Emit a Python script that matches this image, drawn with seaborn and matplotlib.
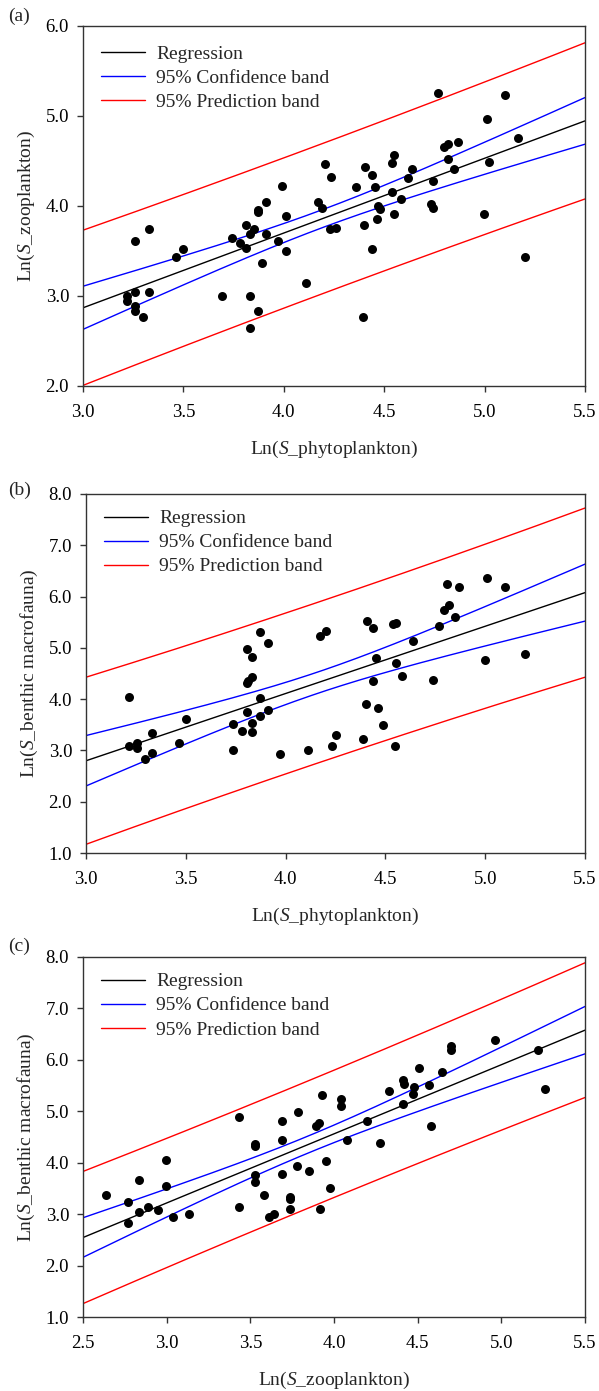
import numpy as np
import pandas as pd
import seaborn as sns
import matplotlib.pyplot as plt
from matplotlib.lines import Line2D

## Data

# (a) Ln(S_phytoplankton) vs Ln(S_zooplankton)
phyto_a = [3.22, 3.22, 3.26, 3.33, 3.26, 3.26, 3.26, 3.30, 3.33, 3.465, 3.50, 3.69,
           3.74, 3.78, 3.81, 3.81, 3.83, 3.85, 3.87, 3.87, 3.91, 3.89, 3.91, 3.83,
           3.87, 3.83, 3.97, 4.01, 4.01, 3.99, 4.77, 5.10, 5.01, 5.165, 4.80, 4.82,
           4.87, 4.82, 4.85, 5.02, 4.55, 4.54, 4.205, 4.235, 4.405, 4.44, 4.36, 4.455,
           4.64, 4.62, 4.745, 4.54, 4.585, 4.17, 4.19, 4.47, 4.48, 4.55, 4.735, 4.745,
           4.995, 4.466, 4.40, 4.23, 4.26, 4.44, 4.11, 4.395, 5.20]
zoo_a = [3.00, 2.95, 3.61, 3.74, 3.05, 2.89, 2.83, 2.77, 3.05, 3.43, 3.52, 3.00,
         3.64, 3.59, 3.53, 3.79, 3.69, 3.74, 3.96, 3.93, 4.04, 3.37, 3.69, 3.00,
         2.83, 2.64, 3.61, 3.89, 3.50, 4.22, 5.26, 5.23, 4.97, 4.76, 4.65, 4.69,
         4.71, 4.52, 4.41, 4.49, 4.57, 4.48, 4.47, 4.32, 4.43, 4.34, 4.21, 4.21,
         4.41, 4.31, 4.28, 4.15, 4.08, 4.05, 3.98, 4.00, 3.97, 3.91, 4.02, 3.98,
         3.91, 3.86, 3.79, 3.75, 3.76, 3.52, 3.14, 2.77, 3.43]

# (b) Ln(S_phytoplankton) vs Ln(S_benthic macrofauna)
phyto_b = [3.217, 3.217, 3.257, 3.254, 3.294, 3.33, 3.33, 3.465, 3.50, 3.737, 3.737,
           3.78, 3.805, 3.805, 3.81, 3.83, 3.83, 3.83, 3.83, 3.87, 3.87, 3.91, 3.97,
           3.805, 3.87, 3.91, 4.17, 4.20, 4.41, 4.44, 4.54, 4.555, 4.81, 4.87, 5.01,
           5.10, 4.795, 4.82, 4.85, 4.77, 4.64, 4.455, 4.555, 5.00, 5.20, 4.44, 4.585,
           4.74, 4.405, 4.465, 4.49, 4.25, 4.23, 4.11, 4.39, 4.55]
benthic_b = [4.05, 3.09, 3.14, 3.04, 2.83, 3.34, 2.95, 3.14, 3.61, 3.51, 3.00,
             3.37, 3.75, 4.31, 4.35, 4.44, 4.82, 3.53, 3.36, 4.03, 3.67, 3.79, 2.94,
             4.98, 5.30, 5.09, 5.23, 5.33, 5.53, 5.38, 5.46, 5.49, 6.24, 6.18, 6.37,
             6.18, 5.74, 5.83, 5.61, 5.43, 5.13, 4.81, 4.70, 4.76, 4.88, 4.35, 4.45,
             4.38, 3.91, 3.83, 3.50, 3.30, 3.09, 3.00, 3.22, 3.09]

# (c) Ln(S_zooplankton) vs Ln(S_benthic macrofauna)
zoo_c = [2.638, 2.77, 2.77, 2.835, 2.835, 2.89, 2.95, 2.995, 2.995, 3.04, 3.135,
         3.434, 3.434, 3.526, 3.526, 3.526, 3.526, 3.584, 3.61, 3.64, 3.69, 3.69,
         3.69, 3.74, 3.74, 3.74, 3.78, 3.785, 4.965, 4.70, 4.70, 5.22, 5.26, 4.51,
         4.645, 4.41, 4.42, 4.48, 4.47, 4.565, 4.33, 4.41, 4.20, 3.93, 4.04, 4.04,
         3.91, 3.895, 4.58, 4.08, 4.275, 3.85, 3.95, 3.975, 3.915]
benthic_c = [3.38, 3.23, 2.83, 3.67, 3.05, 3.14, 3.09, 4.05, 3.54, 2.95, 3.00,
             3.14, 4.89, 4.37, 4.33, 3.77, 3.62, 3.38, 2.95, 3.00, 4.82, 4.44,
             3.79, 3.34, 3.30, 3.10, 3.93, 4.99, 6.38, 6.27, 6.19, 6.19, 5.44, 5.84,
             5.76, 5.61, 5.53, 5.47, 5.34, 5.51, 5.39, 5.14, 4.82, 5.31, 5.23, 5.10,
             4.77, 4.71, 4.71, 4.45, 4.39, 3.83, 4.03, 3.50, 3.10]

panel_tags = ['(a)', '(b)', '(c)']
xlabels = ['Ln($\\mathit{S}$_phytoplankton)', 'Ln($\\mathit{S}$_phytoplankton)',
           'Ln($\\mathit{S}$_zooplankton)']
ylabels = ['Ln($\\mathit{S}$_zooplankton)', 'Ln($\\mathit{S}$_benthic macrofauna)',
           'Ln($\\mathit{S}$_benthic macrofauna)']
legend_labels = ['Regression', '95% Confidence band', '95% Prediction band']


def t95(df):
    # two-sided 95% t quantile (Cornish-Fisher expansion)
    z = 1.959964
    return z + (z**3 + z) / (4 * df) + (5 * z**5 + 16 * z**3 + 3 * z) / (96 * df**2)


def fit_bands(x, y, grid):
    x = np.asarray(x)
    y = np.asarray(y)
    n = len(x)
    b1, b0 = np.polyfit(x, y, 1)
    resid = y - (b0 + b1 * x)
    s = np.sqrt(np.sum(resid**2) / (n - 2))
    sxx = np.sum((x - x.mean())**2)
    t = t95(n - 2)
    yhat = b0 + b1 * grid
    se_m = s * np.sqrt(1 / n + (grid - x.mean())**2 / sxx)
    se_p = s * np.sqrt(1 + 1 / n + (grid - x.mean())**2 / sxx)
    return yhat, t * se_m, t * se_p


sns.set_style('ticks')
plt.rcParams['font.family'] = ['Liberation Serif', 'DejaVu Serif']
plt.rcParams['mathtext.fontset'] = 'custom'
plt.rcParams['mathtext.rm'] = 'Liberation Serif'
plt.rcParams['mathtext.it'] = 'Liberation Serif:italic'
plt.rcParams['axes.edgecolor'] = '#333333'
plt.rcParams['xtick.color'] = '#333333'
plt.rcParams['ytick.color'] = '#333333'
plt.rcParams['xtick.labelcolor'] = 'black'
plt.rcParams['ytick.labelcolor'] = 'black'

fig = plt.figure(figsize=(5.99, 13.91), dpi=100)

W, H = 599, 1391
boxes = [(83, 26, 585, 386), (86, 494, 585, 853), (83, 957, 585, 1317)]
xdata = [phyto_a, phyto_b, zoo_c]
ydata = [zoo_a, benthic_b, benthic_c]
xlims = [(3.0, 5.5), (3.0, 5.5), (2.5, 5.5)]
ylims = [(2.0, 6.0), (1.0, 8.0), (1.0, 8.0)]
tag_y = [16, 490, 946]

for i in range(3):
    l, t, r, b = boxes[i]
    ax = fig.add_axes([l / W, 1 - b / H, (r - l) / W, (b - t) / H])

    df = pd.DataFrame({'x': xdata[i], 'y': ydata[i]})
    grid = np.linspace(xlims[i][0], xlims[i][1], 200)
    yhat, ci, pi = fit_bands(df['x'], df['y'], grid)

    ax.plot(grid, yhat, color='black', lw=1.0)
    ax.plot(grid, yhat + ci, color='#0000ff', lw=1.0)
    ax.plot(grid, yhat - ci, color='#0000ff', lw=1.0)
    ax.plot(grid, yhat + pi, color='#ff0000', lw=1.0)
    ax.plot(grid, yhat - pi, color='#ff0000', lw=1.0)

    sns.scatterplot(data=df, x='x', y='y', ax=ax, color='black', s=42,
                    linewidth=0, legend=False, zorder=3)

    ax.set_xlim(*xlims[i])
    ax.set_ylim(*ylims[i])
    ax.set_xticks(np.arange(xlims[i][0], xlims[i][1] + 0.01, 0.5))
    ax.set_yticks(np.arange(ylims[i][0], ylims[i][1] + 0.01, 1.0))
    ax.xaxis.set_major_formatter('{x:.1f}')
    ax.yaxis.set_major_formatter('{x:.1f}')
    ax.tick_params(axis='both', direction='out', length=4, width=1.0, labelsize=13.5)
    ax.tick_params(axis='x', pad=9)
    ax.tick_params(axis='y', pad=6)
    for sp in ax.spines.values():
        sp.set_linewidth(1.0)

    ax.set_xlabel(xlabels[i], fontsize=14, labelpad=13)
    ax.set_ylabel(ylabels[i], fontsize=14, labelpad=6)

    top_off = 0.946 if i == 0 else 0.956
    handles = [Line2D([], [], color=c, lw=1.0) for c in ['black', '#0000ff', '#ff0000']]
    ax.legend(handles, legend_labels, loc='upper left', frameon=False, fontsize=14,
              bbox_to_anchor=(0.036, top_off), borderaxespad=0, borderpad=0,
              handlelength=2.25, handletextpad=0.6, labelspacing=0.33)

    fig.text(8 / W, 1 - tag_y[i] / H, panel_tags[i], fontsize=14, ha='left', va='center')

fig.savefig('out.png', dpi=100)
